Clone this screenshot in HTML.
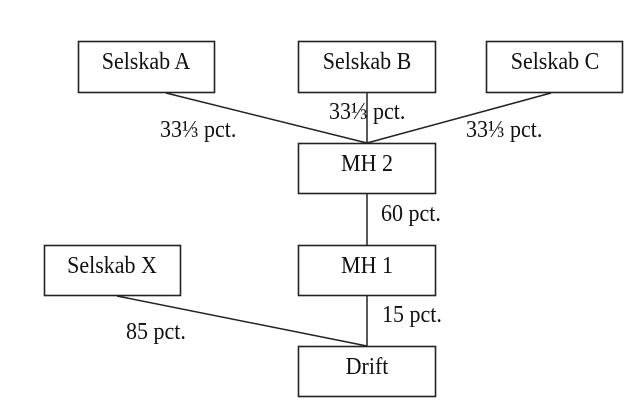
<!DOCTYPE html>
<html><head><meta charset="utf-8"><style>
html,body{margin:0;padding:0;background:#fff;}
svg{display:block;}
text{font-family:"Liberation Serif",serif;font-size:22px;fill:#111;}
</style></head><body>
<svg width="630" height="406" viewBox="0 0 630 406">
<g fill="#fff" stroke="#222" stroke-width="1.6">
<rect x="78.5" y="41.5" width="136" height="51"/>
<rect x="298.5" y="41.5" width="137" height="51"/>
<rect x="486.5" y="41.5" width="136" height="51"/>
<rect x="298.5" y="143.5" width="137" height="50"/>
<rect x="298.5" y="245.5" width="137" height="50"/>
<rect x="298.5" y="346.5" width="137" height="50"/>
<rect x="44.5" y="245.5" width="136" height="50"/>
</g>
<g stroke="#222" stroke-width="1.5" fill="none">
<line x1="166" y1="93" x2="367" y2="143"/>
<line x1="551" y1="93" x2="367" y2="143"/>
<line x1="367" y1="93" x2="367" y2="143"/>
<line x1="367" y1="194" x2="367" y2="245"/>
<line x1="367" y1="296" x2="367" y2="346"/>
<line x1="117" y1="296" x2="367" y2="346"/>
</g>
<g text-anchor="middle">
<text transform="translate(146,69) scale(1,1.12)">Selskab A</text>
<text transform="translate(367,69) scale(1,1.12)">Selskab B</text>
<text transform="translate(555,69) scale(1,1.12)">Selskab C</text>
<text transform="translate(367,171) scale(1,1.12)">MH 2</text>
<text transform="translate(367,273) scale(1,1.12)">MH 1</text>
<text transform="translate(367,374) scale(1,1.12)">Drift</text>
<text transform="translate(112,273) scale(1,1.12)">Selskab X</text>
</g>
<text transform="translate(160,137) scale(1,1.12)">33⅓ pct.</text>
<text transform="translate(329,119) scale(1,1.12)">33⅓ pct.</text>
<text transform="translate(466,137) scale(1,1.12)">33⅓ pct.</text>
<text transform="translate(381,221) scale(1,1.12)">60 pct.</text>
<text transform="translate(382,322) scale(1,1.12)">15 pct.</text>
<text transform="translate(126,339) scale(1,1.12)">85 pct.</text>
</svg>
</body></html>
